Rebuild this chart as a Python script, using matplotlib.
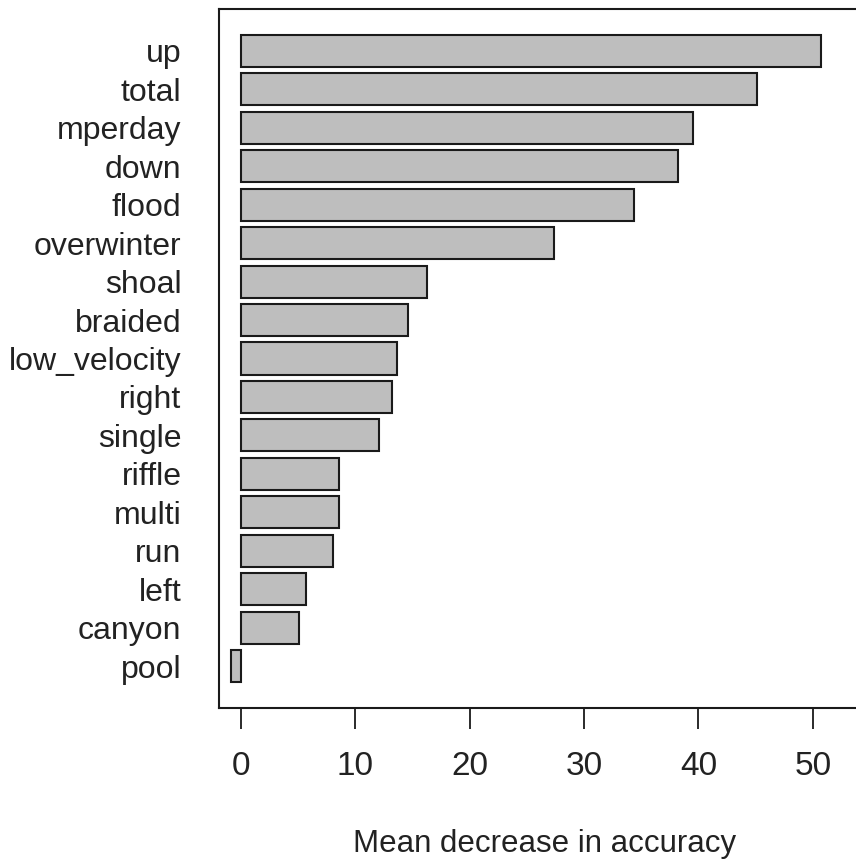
import matplotlib
matplotlib.use("Agg")
import matplotlib.pyplot as plt

# Variable importance (mean decrease in accuracy), listed top to bottom
variables = ["up", "total", "mperday", "down", "flood", "overwinter", "shoal",
             "braided", "low_velocity", "right", "single", "riffle", "multi",
             "run", "left", "canyon", "pool"]
importance = [50.7, 45.1, 39.5, 38.2, 34.4, 27.4, 16.3,
              14.6, 13.6, 13.2, 12.1, 8.6, 8.6,
              8.0, 5.7, 5.1, -0.9]
xticks = [0, 10, 20, 30, 40, 50]

W, H = 856, 865
fig = plt.figure(figsize=(W / 100, H / 100), dpi=100)

# axes box in pixels
left_px, top_px, bottom_px = 219, 9, 708
x0, x1 = -1.93, 55.0
px_per_unit = 11.43
right_px = 241.3 + x1 * px_per_unit
ax = fig.add_axes([left_px / W, (H - bottom_px) / H,
                   (right_px - left_px) / W, (bottom_px - top_px) / H])

# barplot layout: width 1, gap 0.2, drawn bottom-up
n = len(variables)
ypos = [0.7 + 1.2 * (n - 1 - i) for i in range(n)]
ax.barh(ypos, importance, height=1.0, color="#bebebe",
        edgecolor="#1a1a1a", linewidth=1.5)

span = 1.2 * n
ax.set_ylim(0.2 - 0.04 * (span - 0.2), span + 0.04 * (span - 0.2))
ax.set_xlim(x0, x1)

font = ["Liberation Sans", "DejaVu Sans"]
ax.set_yticks(ypos)
ax.set_yticklabels(variables, family=font, fontsize=23, color="#222222")
ax.tick_params(axis="y", length=0, pad=27)

ax.set_xticks(xticks)
ax.set_xticklabels([str(t) for t in xticks], family=font, fontsize=24,
                   color="#222222")
ax.tick_params(axis="x", length=15, width=1.3, pad=16, color="#1a1a1a")

for s in ax.spines.values():
    s.set_linewidth(1.5)
    s.set_color("#1a1a1a")

fig.text(545 / W, 1 - 844 / H, "Mean decrease in accuracy",
         family=font, fontsize=22.5,
         color="#222222", ha="center", va="center")

fig.savefig("out.png", dpi=100, facecolor="white")
